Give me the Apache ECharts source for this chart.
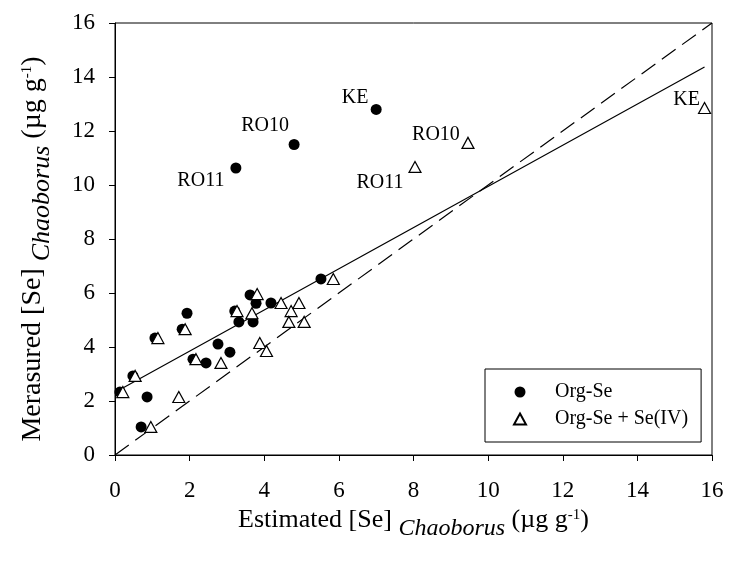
<!DOCTYPE html>
<html>
<head>
<meta charset="utf-8">
<script src="https://cdn.jsdelivr.net/npm/echarts@6/dist/echarts.min.js"></script>
<style>
  html, body { margin: 0; padding: 0; background: #fff; }
  #chart { width: 730px; height: 561px; }
</style>
</head>
<body>
<div id="chart"></div>
<script>
// Org-Se (filled circles)
const orgSeEst  = [0.13, 0.48, 0.70, 0.86, 1.07, 1.80, 1.93, 2.09, 2.44, 2.76, 3.08, 3.21, 3.32, 3.62, 3.70, 3.78, 4.18, 5.52, 3.24, 4.80, 7.00];
const orgSeMeas = [2.33, 2.93, 1.04, 2.15, 4.33, 4.66, 5.25, 3.55, 3.41, 4.11, 3.81, 5.33, 4.93, 5.93, 4.93, 5.62, 5.63, 6.52, 10.63, 11.50, 12.80];
const orgSeNames = ['', '', '', '', '', '', '', '', '', '', '', '', '', '', '', '', '', '', 'RO11', 'RO10', 'KE'];

// Org-Se + Se(IV) (open triangles)
const seIVEst  = [0.21, 0.54, 0.96, 1.71, 1.15, 1.88, 3.67, 2.17, 2.84, 3.88, 4.06, 3.27, 4.72, 4.66, 5.07, 3.81, 4.45, 4.93, 5.85, 8.04, 9.46, 15.80];
const seIVMeas = [2.33, 2.93, 1.04, 2.15, 4.33, 4.66, 5.25, 3.55, 3.41, 4.15, 3.85, 5.33, 5.33, 4.93, 4.93, 5.96, 5.63, 5.63, 6.52, 10.67, 11.56, 12.85];
const seIVNames = ['', '', '', '', '', '', '', '', '', '', '', '', '', '', '', '', '', '', '', 'RO11', 'RO10', 'KE'];

// regression line and 1:1 line
const fitX = [0.21, 15.8];
const fitY = [2.48, 14.37];
const oneToOne = [0, 16];

const FONT = 'Liberation Serif';

// label placement (offset from the point)
const circleLabelPos = { KE: [-21, -12], RO10: [-29, -19], RO11: [-35, 13] };
const triLabelPos = { KE: [-18, -8], RO10: [-32, -8], RO11: [-35, 16] };

function buildPoints(xs, ys, names, offsets) {
    return xs.map((x, i) => {
        const item = { value: [x, ys[i]] };
        if (names[i]) {
            item.label = {
                show: true,
                formatter: names[i],
                position: 'inside',
                offset: offsets[names[i]],
                color: '#000',
                textBorderWidth: 0,
                fontFamily: FONT,
                fontSize: 20
            };
        }
        return item;
    });
}

function titleRich(size) {
    return {
        a: { fontFamily: FONT, fontSize: size, lineHeight: size + 4, color: '#000', verticalAlign: 'top' },
        b: { fontFamily: FONT, fontSize: size - 2, fontStyle: 'italic', lineHeight: size + 4, color: '#000', verticalAlign: 'top', padding: [10, 0, 0, 0] },
        c: { fontFamily: FONT, fontSize: 15, lineHeight: 16, color: '#000', verticalAlign: 'top', padding: [1, 0, 0, 0] }
    };
}

const chart = echarts.init(document.getElementById('chart'));

const option = {
    animation: false,
    backgroundColor: '#fff',
    grid: {
        left: 115, right: 18, top: 23, bottom: 106,
        show: true, borderColor: '#000', borderWidth: 1
    },
    legend: {
        orient: 'vertical',
        left: 485, top: 369,
        padding: [13, 13, 13, 28],
        itemWidth: 12, itemHeight: 11, itemGap: 7,
        borderColor: '#000', borderWidth: 1, borderRadius: 0,
        textStyle: { fontFamily: FONT, fontSize: 20, lineHeight: 20, color: '#000', padding: [0, 0, 0, 24] },
        data: ['Org-Se', 'Org-Se + Se(IV)']
    },
    xAxis: {
        type: 'value', min: 0, max: 16, interval: 2,
        splitLine: { show: false },
        axisLine: { lineStyle: { color: '#000', width: 1 } },
        axisTick: { inside: false, length: 6, lineStyle: { color: '#000' } },
        axisLabel: { margin: 24, fontFamily: FONT, fontSize: 23, color: '#000' },
        name: '{a|Estimated [Se] }{b|Chaoborus}{a| (µg g}{c|-1}{a|)}',
        nameLocation: 'middle',
        nameGap: 50,
        nameTextStyle: { rich: titleRich(26) }
    },
    yAxis: {
        type: 'value', min: 0, max: 16, interval: 2,
        splitLine: { show: false },
        axisLine: { lineStyle: { color: '#000', width: 1 } },
        axisTick: { inside: false, length: 6, lineStyle: { color: '#000' } },
        axisLabel: { margin: 20, fontFamily: FONT, fontSize: 23, color: '#000' },
        name: '{a|Merasured [Se] }{b|Chaoborus}{a| (µg g}{c|-1}{a|)}',
        nameLocation: 'middle',
        nameRotate: 90,
        nameGap: 64,
        nameTextStyle: { padding: [0, 20, 0, 0], rich: titleRich(28) }
    },
    series: [
        {
            name: '1:1',
            type: 'line',
            data: oneToOne.map(v => [v, v]),
            symbol: 'none',
            lineStyle: { color: '#000', width: 1.2, type: [17, 8] },
            z: 1
        },
        {
            name: 'fit',
            type: 'line',
            data: fitX.map((x, i) => [x, fitY[i]]),
            symbol: 'none',
            lineStyle: { color: '#000', width: 1.2 },
            z: 1
        },
        {
            name: 'Org-Se + Se(IV)',
            type: 'scatter',
            symbol: 'triangle',
            symbolSize: [12, 11],
            itemStyle: { color: '#fff', borderColor: '#000', borderWidth: 1.2, opacity: 1 },
            data: buildPoints(seIVEst, seIVMeas, seIVNames, triLabelPos),
            z: 3
        },
        {
            name: 'Org-Se',
            type: 'scatter',
            symbol: 'circle',
            symbolSize: 11,
            itemStyle: { color: '#000', opacity: 1 },
            data: buildPoints(orgSeEst, orgSeMeas, orgSeNames, circleLabelPos),
            z: 2
        }
    ]
};

chart.setOption(option);
</script>
</body>
</html>
